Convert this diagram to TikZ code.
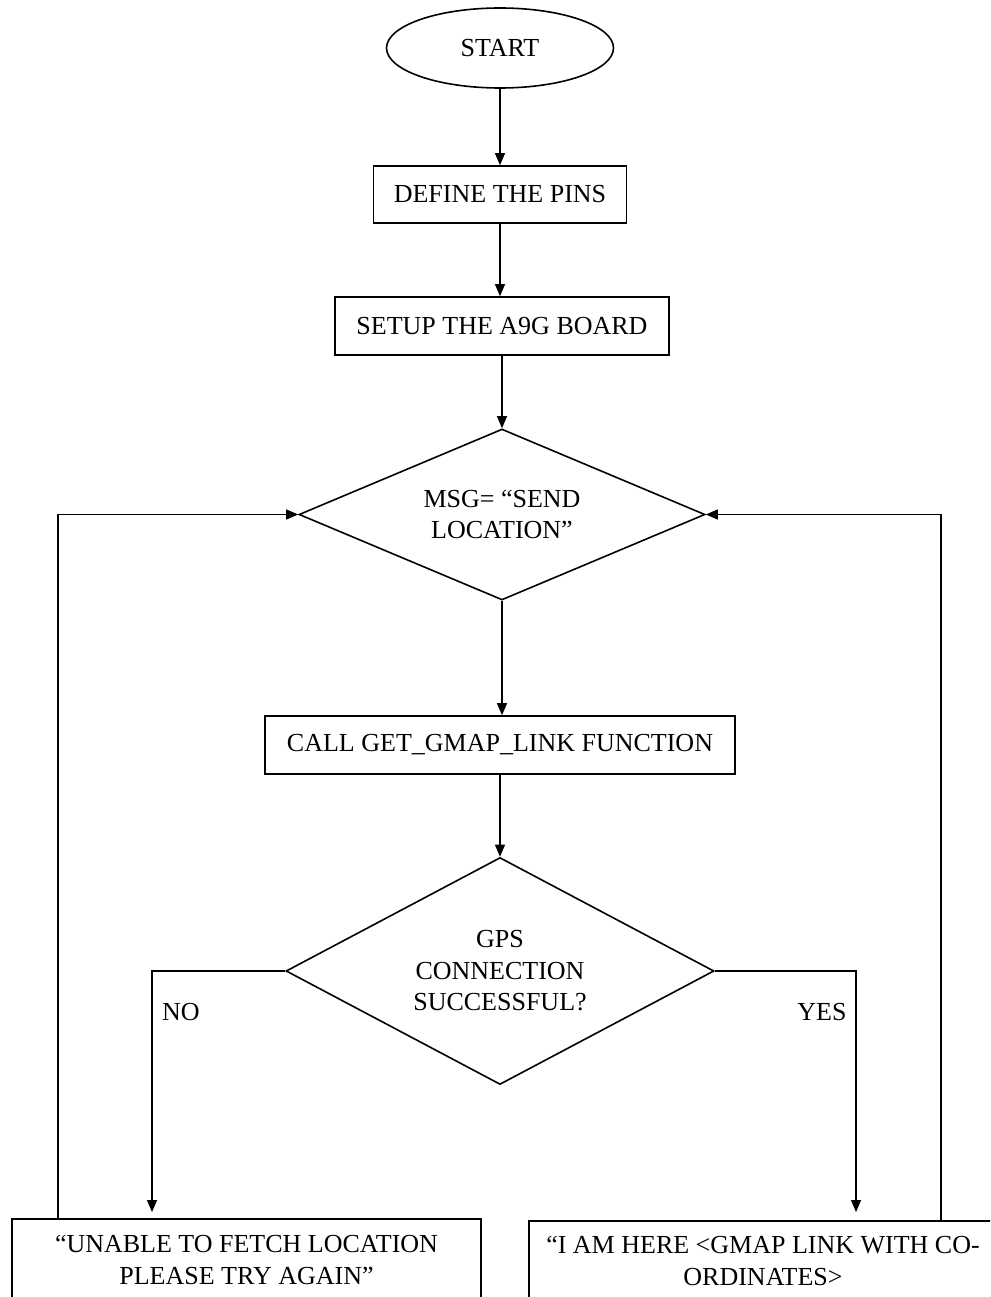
\documentclass[tikz,border=0pt]{standalone}
\usepackage{fontspec}
\setmainfont{Liberation Serif}
\usetikzlibrary{shapes.geometric,arrows.meta}
\begin{document}
\begin{tikzpicture}[x=1pt,y=-1pt,
  every node/.style={font=\fontsize{26}{31.5}\selectfont, inner sep=0pt},
  box/.style={draw, line width=1.6pt, rectangle, align=center},
  term/.style={draw, line width=1.6pt, ellipse},
  decision/.style={draw, line width=1.6pt, diamond, align=center},
  arr/.style={line width=1.1pt, -{Triangle[length=12pt,width=10pt]}},
  lbl/.style={}]
\useasboundingbox (0,0) rectangle (990,1297);
\clip (0,0) rectangle (990,1297);

\node[term, minimum width=227pt, minimum height=80pt] (start) at (500,48) {START};
\node[box, minimum width=253pt, minimum height=57pt] (pins) at (500,194.5) {DEFINE THE PINS};
\node[box, minimum width=334pt, minimum height=58pt] (setup) at (502,326) {SETUP THE A9G BOARD};
\node[decision, aspect=2.37, minimum width=406pt, minimum height=171pt] (msg) at (502,514.5) {MSG= ``SEND\\LOCATION''};
\node[box, minimum width=470pt, minimum height=58pt] (call) at (500,745) {CALL GET\_GMAP\_LINK FUNCTION};
\node[decision, aspect=1.89, minimum width=428pt, minimum height=227pt] (gps) at (500,971) {GPS\\CONNECTION\\SUCCESSFUL?};
\node[box, minimum width=469pt, minimum height=82pt] (fail) at (246.5,1260) {``UNABLE TO FETCH LOCATION\\PLEASE TRY AGAIN''};
\node[box, minimum width=468pt, minimum height=80pt] (ok) at (763,1261) {``I AM HERE <GMAP LINK WITH CO-\\ORDINATES>};

\node[lbl] (no) at (181,1012) {NO};
\node[lbl] (yes) at (822,1012) {YES};

\coordinate (noend) at (152,1212);
\coordinate (yesend) at (856,1212);
\coordinate (lfb) at (58,1219);
\coordinate (rfb) at (941,1221);

\draw[arr] (start.south) -- (start.south |- pins.north);
\draw[arr] (pins.south) -- (pins.south |- setup.north);
\draw[arr] (setup.south) -- (setup.south |- msg.north);
\draw[arr] (msg.south) -- (msg.south |- call.north);
\draw[arr] (call.south) -- (gps.north);
\draw[arr] (gps.west) -| (noend);
\draw[arr] (gps.east) -| (yesend);
\draw[arr] (lfb) |- (msg.west);
\draw[arr] (rfb) |- (msg.east);
\end{tikzpicture}
\end{document}
